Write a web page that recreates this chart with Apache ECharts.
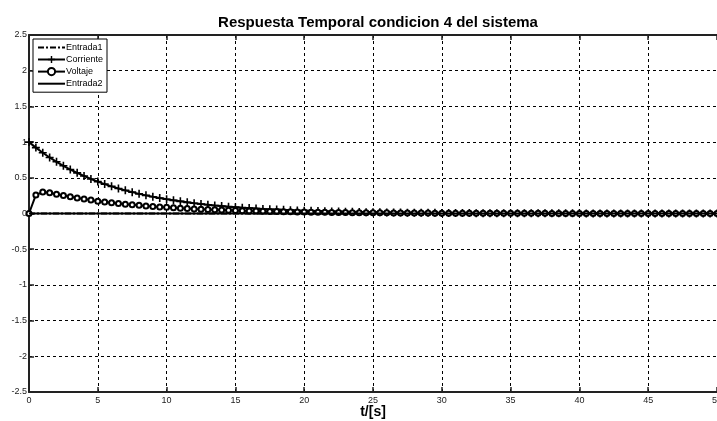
<!DOCTYPE html>
<html>
<head>
<meta charset="utf-8">
<script src="https://cdn.jsdelivr.net/npm/echarts@6/dist/echarts.min.js"></script>
<style>html,body{margin:0;padding:0;background:#fff}#c{width:717px;height:421px}</style>
</head>
<body>
<div id="c"></div>
<script>
const titleText = 'Respuesta Temporal condicion 4 del sistema';
const xLabel = 't/[s]';
const seriesNames = ['Entrada1', 'Corriente', 'Voltaje', 'Entrada2'];
const t = [0,0.5,1,1.5,2,2.5,3,3.5,4,4.5,5,5.5,6,6.5,7,7.5,8,8.5,9,9.5,
  10,10.5,11,11.5,12,12.5,13,13.5,14,14.5,15,15.5,16,16.5,17,17.5,18,18.5,19,19.5,
  20,20.5,21,21.5,22,22.5,23,23.5,24,24.5,25,25.5,26,26.5,27,27.5,28,28.5,29,29.5,
  30,30.5,31,31.5,32,32.5,33,33.5,34,34.5,35,35.5,36,36.5,37,37.5,38,38.5,39,39.5,
  40,40.5,41,41.5,42,42.5,43,43.5,44,44.5,45,45.5,46,46.5,47,47.5,48,48.5,49,49.5,50];
const corriente = [1.000,0.923,0.851,0.785,0.724,0.668,0.616,0.569,0.525,0.484,
  0.447,0.412,0.380,0.351,0.324,0.299,0.275,0.254,0.234,0.216,
  0.199,0.184,0.170,0.156,0.144,0.133,0.123,0.113,0.105,0.096,
  0.089,0.082,0.076,0.070,0.064,0.059,0.055,0.051,0.047,0.043,
  0.040,0.037,0.034,0.031,0.029,0.027,0.025,0.023,0.021,0.019,
  0.018,0.016,0.015,0.014,0.013,0.012,0.011,0.010,0.009,0.009,
  0.008,0.007,0.007,0.006,0.006,0.005,0.005,0.005,0.004,0.004,
  0.004,0.003,0.003,0.003,0.003,0.002,0.002,0.002,0.002,0.002,
  0.002,0.001,0.001,0.001,0.001,0.001,0.001,0.001,0.001,0.001,
  0.001,0.000,0.000,0.000,0.000,0.000,0.000,0.000,0.000,0.000,0.000];
const voltaje = [0.000,0.260,0.300,0.290,0.270,0.251,0.234,0.218,0.203,0.189,
  0.172,0.162,0.151,0.141,0.131,0.122,0.114,0.106,0.099,0.092,
  0.086,0.080,0.074,0.069,0.064,0.060,0.056,0.052,0.048,0.045,
  0.042,0.039,0.036,0.034,0.031,0.029,0.027,0.025,0.024,0.022,
  0.020,0.019,0.018,0.016,0.015,0.014,0.013,0.012,0.011,0.011,
  0.010,0.009,0.009,0.008,0.007,0.007,0.006,0.006,0.006,0.005,
  0.005,0.005,0.004,0.004,0.004,0.003,0.003,0.003,0.003,0.003,
  0.002,0.002,0.002,0.002,0.002,0.002,0.001,0.001,0.001,0.001,
  0.001,0.001,0.001,0.001,0.001,0.001,0.001,0.000,0.000,0.000,
  0.000,0.000,0.000,0.000,0.000,0.000,0.000,0.000,0.000,0.000,0.000];
const entrada1 = t.map(() => 0);
const entrada2 = t.map(() => 0);

const pairs = arr => t.map((x, i) => [x, arr[i]]);
const plusPath = 'path://M4,0H6V4H10V6H6V10H4V6H0V4H4Z';
const FONT = 'Liberation Sans, Arial, sans-serif';

const chart = echarts.init(document.getElementById('c'), null, {renderer: 'canvas'});
const axisLabelStyle = {color: '#222', fontSize: 9, fontFamily: FONT};
chart.setOption({
  animation: false,
  backgroundColor: '#fff',
  title: {
    text: titleText, left: 373, top: 10, textAlign: 'center',
    textStyle: {fontSize: 15, fontWeight: 'bold', color: '#000', fontFamily: FONT}
  },
  grid: {left: 29, right: 0, top: 35, bottom: 29, outerBoundsMode: 'none', containLabel: false},
  legend: {
    data: [
      {name: seriesNames[0], itemStyle: {opacity: 0}},
      {name: seriesNames[1]},
      {name: seriesNames[2]},
      {name: seriesNames[3], itemStyle: {opacity: 0}}
    ],
    orient: 'vertical', left: 33, top: 39,
    backgroundColor: '#fff', borderColor: '#000', borderWidth: 1, borderRadius: 0,
    padding: [4, 4, 4, 4], itemGap: 3, itemWidth: 27, itemHeight: 9,
    textStyle: {fontSize: 9, color: '#000', padding: [0, 0, 0, -4], fontFamily: FONT}
  },
  xAxis: [{
    type: 'value', min: 0, max: 50, interval: 5, position: 'bottom',
    name: xLabel, nameLocation: 'middle', nameGap: 13, nameMoveOverlap: false,
    nameTextStyle: {fontSize: 14, fontWeight: 'bold', color: '#000', fontFamily: FONT},
    axisLine: {show: true, onZero: false, lineStyle: {color: '#222', width: 2}},
    axisTick: {show: true, inside: true, length: 5, lineStyle: {color: '#222', width: 1.5}},
    axisLabel: Object.assign({margin: 4}, axisLabelStyle),
    splitLine: {show: true, lineStyle: {color: '#000', type: [3, 3], width: 1}}
  }, {
    type: 'value', min: 0, max: 50, interval: 5, position: 'top',
    axisLine: {show: true, onZero: false, lineStyle: {color: '#222', width: 2}},
    axisTick: {show: true, inside: true, length: 5, lineStyle: {color: '#222', width: 1.5}},
    axisLabel: {show: false}, splitLine: {show: false}
  }],
  yAxis: {
    type: 'value', min: -2.5, max: 2.5, interval: 0.5,
    axisLine: {show: true, onZero: false, lineStyle: {color: '#222', width: 2}},
    axisTick: {show: true, inside: true, length: 5, lineStyle: {color: '#222', width: 1.5}},
    axisLabel: Object.assign({margin: 2}, axisLabelStyle),
    splitLine: {show: true, lineStyle: {color: '#000', type: [3, 3], width: 1}}
  },
  series: [
    {name: seriesNames[0], type: 'line', data: pairs(entrada1), showSymbol: false, symbol: 'none',
     lineStyle: {color: '#000', width: 2, type: [6, 2, 2, 2]}, itemStyle: {color: '#000'}, z: 2},
    {name: seriesNames[1], type: 'line', data: pairs(corriente), symbol: plusPath, symbolSize: 8,
     lineStyle: {color: '#000', width: 2}, itemStyle: {color: '#000'}, z: 3},
    {name: seriesNames[2], type: 'line', data: pairs(voltaje), symbol: 'emptyCircle', symbolSize: 5,
     lineStyle: {color: '#000', width: 2}, itemStyle: {color: '#000', borderColor: '#000', borderWidth: 2}, z: 4},
    {name: seriesNames[3], type: 'line', data: pairs(entrada2), showSymbol: false, symbol: 'none',
     lineStyle: {color: '#000', width: 2}, itemStyle: {color: '#000'}, z: 5}
  ]
});
</script>
</body>
</html>
